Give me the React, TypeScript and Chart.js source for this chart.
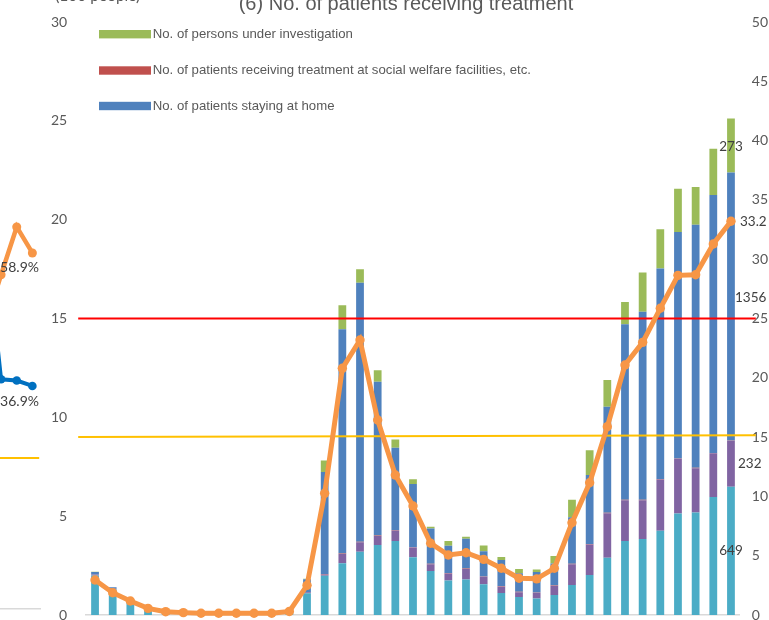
import React, { useEffect, useRef } from "react";
import { Chart, registerables } from "chart.js";

Chart.register(...registerables);

// ---------- main chart data (values in hundreds of people) ----------
const WEEKS = [
  "W1", "W2", "W3", "W4", "W5", "W6", "W7", "W8", "W9", "W10",
  "W11", "W12", "W13", "W14", "W15", "W16", "W17", "W18", "W19", "W20",
  "W21", "W22", "W23", "W24", "W25", "W26", "W27", "W28", "W29", "W30",
  "W31", "W32", "W33", "W34", "W35", "W36", "W37",
];

const HOSPITAL_MILD = [
  2.0, 1.3, 0.75, 0.38, 0.14, 0.07, 0.05, 0.04, 0.03, 0.03,
  0.04, 0.12, 1.1, 1.99, 2.62, 3.2, 3.54, 3.74, 2.92, 2.23,
  1.75, 1.79, 1.55, 1.11, 0.91, 0.84, 1.01, 1.52, 2.02, 2.9,
  3.74, 3.84, 4.26, 5.14, 5.19, 5.97, 6.49,
];
const HOSPITAL_SEVERE = [
  0.05, 0.03, 0.01, 0.01, 0, 0, 0, 0, 0, 0,
  0, 0.01, 0.05, 0.06, 0.47, 0.48, 0.46, 0.54, 0.49, 0.34,
  0.35, 0.54, 0.38, 0.32, 0.24, 0.28, 0.47, 1.05, 1.55, 2.25,
  2.07, 1.97, 2.6, 2.76, 2.24, 2.21, 2.32,
];
const WELFARE = [
  0, 0, 0, 0, 0, 0, 0, 0, 0, 0,
  0, 0, 0, 0.02, 0.02, 0.02, 0.02, 0.02, 0.02, 0.02,
  0.02, 0.02, 0.02, 0.02, 0.02, 0.02, 0.02, 0.02, 0.02, 0.02,
  0.02, 0.02, 0.02, 0.02, 0.02, 0.02, 0.02,
];
const HOME = [
  0.12, 0.07, 0.03, 0.03, 0.01, 0.01, 0, 0, 0, 0,
  0.01, 0.03, 0.66, 5.16, 11.35, 13.11, 7.78, 4.16, 3.2, 1.78,
  1.38, 1.51, 1.28, 1.33, 0.94, 1.04, 1.11, 2.36, 3.49, 5.37,
  8.88, 9.51, 10.65, 11.46, 12.29, 13.05, 13.56,
];
const INVESTIGATION = [
  0.02, 0, 0, 0, 0, 0, 0, 0, 0, 0,
  0, 0, 0.02, 0.59, 1.21, 0.68, 0.58, 0.42, 0.24, 0.09,
  0.24, 0.1, 0.29, 0.15, 0.22, 0.12, 0.37, 0.88, 1.26, 1.35,
  1.13, 1.99, 1.99, 2.18, 1.91, 2.34, 2.73,
];
const RATE_LINE = [
  2.95, 1.88, 1.18, 0.56, 0.28, 0.2, 0.15, 0.15, 0.15, 0.15,
  0.15, 0.3, 2.5, 10.26, 20.8, 23.19, 16.44, 11.8, 9.19, 6.05,
  5.06, 5.25, 4.69, 3.94, 3.1, 3.05, 3.94, 7.78, 11.15, 15.88,
  21.08, 22.99, 25.86, 28.64, 28.69, 31.28, 33.2,
];

const LEFT_TICKS = [0, 5, 10, 15, 20, 25, 30];
const RIGHT_TICKS = [0, 5, 10, 15, 20, 25, 30, 35, 40, 45, 50];
const RED_LEVEL = [25, 25];
const YELLOW_LEVEL = [15.0, 15.15];

const TITLE = "(6) No. of patients receiving treatment";
const UNIT = "(100 people)";
const LBL_INVEST = "No. of persons under investigation";
const LBL_WELFARE = "No. of patients receiving treatment at social welfare facilities, etc.";
const LBL_HOME = "No. of patients staying at home";

// ---------- neighbouring chart remnant (percent) ----------
const SIDE_CATS = ["a", "b", "c", "d"];
const SIDE_ORANGE = [47, 55.3, 63.2, 58.9];
const SIDE_BLUE = [62, 38.0, 37.8, 36.9];
const SIDE_LEVEL = 25;

const C_CYAN = "#4BACC6";
const C_PURPLE = "#8064A2";
const C_RED = "#C0504D";
const C_BLUE = "#4F81BD";
const C_GREEN = "#9BBB59";
const C_ORANGE = "#F79646";
const TXT = "#595959";
const LBL = "#404040";

export default function App() {
  const mainRef = useRef<HTMLCanvasElement>(null);
  const sideRef = useRef<HTMLCanvasElement>(null);

  useEffect(() => {
    const LINE_INDEX = 5;

    const mainPlugin = {
      id: "mainOverlay",
      beforeDatasetDraw(chart: any, args: any) {
        if (args.index !== LINE_INDEX) return;
        const { ctx, chartArea, scales } = chart;
        const x0 = chartArea.left - 8;
        const x1 = chartArea.right + 16;
        const lines = [
          { v: RED_LEVEL, c: "#FF0000" },
          { v: YELLOW_LEVEL, c: "#FFC000" },
        ];
        ctx.save();
        for (const l of lines) {
          ctx.strokeStyle = l.c;
          ctx.lineWidth = 2;
          ctx.beginPath();
          ctx.moveTo(x0, scales.y2.getPixelForValue(l.v[0]));
          ctx.lineTo(x1, scales.y2.getPixelForValue(l.v[1]));
          ctx.stroke();
        }
        ctx.restore();
      },
      afterDatasetsDraw(chart: any) {
        const { ctx, chartArea } = chart;
        ctx.save();
        // data labels on last category
        const last = WEEKS.length - 1;
        ctx.font = "13.5px Lato";
        ctx.fillStyle = LBL;
        ctx.textBaseline = "middle";
        const seg = (di: number) => chart.getDatasetMeta(di).data[last];
        const labelDefs = [
          { di: 0, val: HOSPITAL_MILD[last], align: "center", dx: 0, dy: 0 },
          { di: 1, val: HOSPITAL_SEVERE[last], align: "left", dx: 7, dy: 0 },
          { di: 3, val: HOME[last], align: "left", dx: 4, dy: -9 },
          { di: 4, val: INVESTIGATION[last], align: "center", dx: 0, dy: 1 },
        ];
        for (const d of labelDefs) {
          const el: any = seg(d.di);
          const mid = (el.y + el.base) / 2;
          ctx.textAlign = d.align;
          ctx.fillText(String(Math.round(d.val * 100)), el.x + d.dx, mid + d.dy);
        }
        const pt: any = chart.getDatasetMeta(LINE_INDEX).data[last];
        ctx.textAlign = "left";
        ctx.fillText(String(RATE_LINE[last]), pt.x + 9, pt.y);

        // legend
        const entries = [
          { c: C_GREEN, t: LBL_INVEST, dy: 12.2 },
          { c: C_RED, t: LBL_WELFARE, dy: 48.5 },
          { c: C_BLUE, t: LBL_HOME, dy: 84 },
        ];
        ctx.font = "13.2px 'Liberation Sans'";
        ctx.textAlign = "left";
        for (const e of entries) {
          const cy = chartArea.top + e.dy;
          ctx.fillStyle = e.c;
          ctx.fillRect(chartArea.left + 12.8, cy - 4.2, 52, 8.4);
          ctx.fillStyle = TXT;
          ctx.fillText(e.t, chartArea.left + 66.5, cy);
        }

        // unit label
        ctx.font = "15.5px Lato";
        ctx.fillStyle = TXT;
        ctx.textBaseline = "alphabetic";
        ctx.fillText(UNIT, chartArea.left - 31, chartArea.top - 21.5);
        ctx.restore();
      },
    };

    const main = new Chart(mainRef.current!, {
      type: "bar",
      data: {
        labels: WEEKS,
        datasets: [
          { label: "hospital-mild", data: HOSPITAL_MILD, backgroundColor: C_CYAN, stack: "s", order: 1 },
          { label: "hospital-severe", data: HOSPITAL_SEVERE, backgroundColor: C_PURPLE, stack: "s", order: 1 },
          { label: LBL_WELFARE, data: WELFARE, backgroundColor: C_RED, stack: "s", order: 1 },
          { label: LBL_HOME, data: HOME, backgroundColor: C_BLUE, stack: "s", order: 1 },
          { label: LBL_INVEST, data: INVESTIGATION, backgroundColor: C_GREEN, stack: "s", order: 1 },
          {
            type: "line",
            label: "rate",
            data: RATE_LINE,
            yAxisID: "y2",
            borderColor: C_ORANGE,
            backgroundColor: C_ORANGE,
            borderWidth: 5,
            pointRadius: 4.7,
            pointBorderWidth: 0,
            pointBackgroundColor: C_ORANGE,
            tension: 0,
            order: 0,
            clip: false,
          } as any,
        ],
      },
      options: {
        responsive: false,
        animation: false,
        devicePixelRatio: 1,
        layout: { padding: { top: 0, bottom: 30, left: 0, right: 0 } },
        datasets: { bar: { categoryPercentage: 1, barPercentage: 0.44, borderWidth: 0 } },
        plugins: {
          legend: { display: false },
          tooltip: { enabled: false },
          title: {
            display: true,
            text: TITLE,
            color: TXT,
            font: { family: "'Liberation Sans'", size: 20, weight: "normal" },
            padding: { top: 12, bottom: 6 },
          },
        },
        scales: {
          x: {
            stacked: true,
            display: true,
            ticks: { display: false },
            grid: { display: false, drawTicks: false },
            border: { display: true, color: "#D9D9D9", width: 1.5 },
            afterFit: (s: any) => { s.height = 0; },
          },
          y: {
            stacked: true,
            position: "left",
            min: LEFT_TICKS[0],
            max: LEFT_TICKS[LEFT_TICKS.length - 1],
            afterBuildTicks: (s: any) => { s.ticks = LEFT_TICKS.map((v) => ({ value: v })); },
            ticks: { color: TXT, font: { family: "Lato", size: 14 }, padding: 19 },
            grid: { display: false, drawTicks: false },
            border: { display: false },
            afterFit: (s: any) => { s.width = 86.2; },
          },
          y2: {
            position: "right",
            min: RIGHT_TICKS[0],
            max: RIGHT_TICKS[RIGHT_TICKS.length - 1],
            afterBuildTicks: (s: any) => { s.ticks = RIGHT_TICKS.map((v) => ({ value: v })); },
            ticks: { color: TXT, font: { family: "Lato", size: 14 }, padding: 12 },
            grid: { display: false, drawTicks: false },
            border: { display: false },
            afterFit: (s: any) => { s.width = 72.2; },
          },
        },
      },
      plugins: [mainPlugin],
    } as any);

    const sidePlugin = {
      id: "sideOverlay",
      beforeDatasetsDraw(chart: any) {
        const { ctx, chartArea, scales } = chart;
        const y = scales.y.getPixelForValue(SIDE_LEVEL);
        ctx.save();
        ctx.strokeStyle = "#FFC000";
        ctx.lineWidth = 2;
        ctx.beginPath();
        ctx.moveTo(chartArea.left, y);
        ctx.lineTo(chartArea.right - 1, y);
        ctx.stroke();
        ctx.restore();
      },
      afterDatasetsDraw(chart: any) {
        const { ctx } = chart;
        const last = SIDE_CATS.length - 1;
        ctx.save();
        ctx.font = "14px Lato";
        ctx.fillStyle = LBL;
        ctx.textAlign = "right";
        ctx.textBaseline = "middle";
        const po: any = chart.getDatasetMeta(0).data[last];
        ctx.fillText(SIDE_ORANGE[last].toFixed(1) + "%", po.x + 6.6, po.y + 15);
        const pb: any = chart.getDatasetMeta(1).data[last];
        ctx.fillText(SIDE_BLUE[last].toFixed(1) + "%", pb.x + 6.6, pb.y + 16);
        ctx.restore();
      },
    };

    const side = new Chart(sideRef.current!, {
      type: "line",
      data: {
        labels: SIDE_CATS,
        datasets: [
          {
            data: SIDE_ORANGE, borderColor: C_ORANGE, backgroundColor: C_ORANGE,
            borderWidth: 4.5, pointRadius: 4.5, pointBorderWidth: 0, pointBackgroundColor: C_ORANGE, tension: 0,
          },
          {
            data: SIDE_BLUE, borderColor: "#0070C0", backgroundColor: "#0070C0",
            borderWidth: 4, pointRadius: 4.3, pointBorderWidth: 0, pointBackgroundColor: "#0070C0", tension: 0,
          },
        ],
      },
      options: {
        responsive: false,
        animation: false,
        devicePixelRatio: 1,
        layout: { padding: { top: 1, bottom: 11, left: 17.6, right: 19.8 } },
        plugins: { legend: { display: false }, tooltip: { enabled: false } },
        scales: {
          x: {
            offset: true,
            ticks: { display: false },
            grid: { display: false, drawTicks: false },
            border: { display: true, color: "#D9D9D9", width: 1.5 },
            afterFit: (s: any) => { s.height = 0; },
          },
          y: { display: false, min: 0, max: 100 },
        },
      },
      plugins: [sidePlugin],
    } as any);

    return () => {
      main.destroy();
      side.destroy();
    };
  }, []);

  return (
    <div
      style={{
        position: "absolute", left: 0, top: 0, width: 769, height: 620,
        overflow: "hidden", background: "#ffffff",
      }}
    >
      <canvas
        ref={sideRef}
        width={100}
        height={620}
        style={{ position: "absolute", left: -40, top: 0, width: 100, height: 620 }}
      />
      <canvas
        ref={mainRef}
        width={812}
        height={665}
        style={{ position: "absolute", left: 0, top: -20, width: 812, height: 665 }}
      />
    </div>
  );
}
